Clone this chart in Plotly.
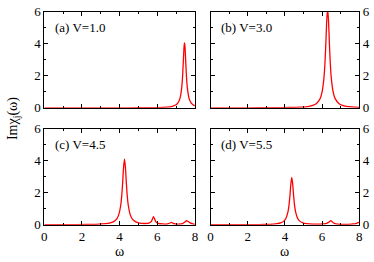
import plotly.graph_objects as go

# ---- data ----
w_a = [0.0, 1.0, 2.0, 3.0, 4.0, 5.0, 6.0, 6.5, 6.8, 7.0, 7.1, 7.2, 7.3, 7.35, 7.4, 7.425,
       7.45, 7.475, 7.5, 7.55, 7.6, 7.7, 7.8, 7.9, 8.0]
chi_a = [0.0, 0.0, 0.0, 0.002, 0.004, 0.008, 0.019, 0.044, 0.094, 0.19, 0.31, 0.56, 1.25, 2.02,
         3.24, 3.81, 4.05, 3.81, 3.24, 2.02, 1.25, 0.56, 0.31, 0.19, 0.13]

w_b = [0.0, 1.0, 2.0, 3.3, 4.3, 4.8, 5.3, 5.5, 5.7, 5.9, 6.0, 6.1, 6.15, 6.2, 6.25,
       6.3, 6.35, 6.4, 6.45, 6.5, 6.6, 6.7, 6.9, 7.1, 7.3, 7.6, 8.0]
chi_b = [0.002, 0.003, 0.005, 0.012, 0.026, 0.046, 0.10, 0.16, 0.28, 0.59, 0.98, 1.84, 2.66,
         3.89, 5.40, 6.2, 5.40, 3.89, 2.66, 1.84, 0.98, 0.59, 0.28, 0.16, 0.10, 0.06, 0.036]

w_c = [0.0, 1.26, 2.26, 2.76, 3.26, 3.46, 3.66, 3.86, 3.96, 4.06, 4.11, 4.16, 4.21, 4.26,
       4.31, 4.36, 4.41, 4.46, 4.56, 4.66, 4.86, 5.06, 5.3, 5.55, 5.68, 5.75, 5.8, 5.85,
       5.92, 6.05, 6.3, 6.55, 6.68, 6.75, 6.82, 6.95, 7.15, 7.35, 7.48, 7.55, 7.62, 7.75, 7.9, 8.0]
chi_c = [0.004, 0.008, 0.017, 0.03, 0.068, 0.105, 0.18, 0.39, 0.65, 1.22, 1.76, 2.58, 3.57, 4.1,
         3.57, 2.58, 1.76, 1.22, 0.65, 0.39, 0.18, 0.11, 0.08, 0.1, 0.2, 0.38, 0.5, 0.4,
         0.2, 0.09, 0.05, 0.06, 0.11, 0.15, 0.11, 0.05, 0.04, 0.07, 0.18, 0.25, 0.22, 0.12, 0.05, 0.03]

w_d = [0.0, 1.0, 2.37, 2.87, 3.37, 3.57, 3.77, 3.97, 4.07, 4.17, 4.22, 4.27, 4.32, 4.37,
       4.42, 4.47, 4.52, 4.57, 4.67, 4.77, 4.97, 5.17, 5.5, 5.9, 6.2, 6.35, 6.42, 6.47,
       6.52, 6.6, 6.75, 7.0, 7.4, 7.7, 7.85, 7.95, 8.0]
chi_d = [0.003, 0.005, 0.011, 0.02, 0.045, 0.07, 0.12, 0.26, 0.44, 0.83, 1.21, 1.80, 2.54, 2.95,
         2.54, 1.80, 1.21, 0.83, 0.44, 0.26, 0.12, 0.07, 0.04, 0.04, 0.07, 0.15, 0.22, 0.25,
         0.22, 0.13, 0.06, 0.03, 0.03, 0.05, 0.09, 0.13, 0.16]

labels = ["(a) V=1.0", "(b) V=3.0", "(c) V=4.5", "(d) V=5.5"]
x_ticks = [0, 2, 4, 6, 8]
y_ticks = [0, 2, 4, 6]

W, H = 374, 262
FONT = "Liberation Serif, Times New Roman, serif"

def px(v):
    return v / W

def py(v):
    return 1 - v / H

xdom_l = [px(42), px(195)]
xdom_r = [px(211), px(362)]
ydom_t = [py(107), py(5)]
ydom_b = [py(231), py(129)]

fig = go.Figure()

series = [(w_a, chi_a), (w_b, chi_b), (w_c, chi_c), (w_d, chi_d)]
axes_ids = ["", "2", "3", "4"]
for (wx, cy), aid in zip(series, axes_ids):
    fig.add_trace(go.Scatter(x=wx, y=cy, mode="lines", xaxis="x" + aid, yaxis="y" + aid,
                             line=dict(color="#ff0000", width=1.3, shape="spline", smoothing=0.6),
                             showlegend=False, hoverinfo="skip"))

def xax(dom, anchor, showlabels):
    return dict(domain=dom, anchor=anchor, range=[0, 8], tickvals=x_ticks,
                showticklabels=showlabels, ticks="inside", ticklen=4, tickwidth=1,
                tickcolor="black", showline=True, linecolor="black", linewidth=1,
                mirror="allticks", showgrid=False, zeroline=False,
                minor=dict(dtick=1, tick0=0, ticklen=2, ticks="inside", tickcolor="black", showgrid=False),
                tickfont=dict(family=FONT, size=13, color="black"))

def yax(dom, anchor, side):
    return dict(domain=dom, anchor=anchor, range=[0, 6], tickvals=y_ticks, side=side,
                ticks="inside", ticklen=4, tickwidth=1, tickcolor="black",
                showline=True, linecolor="black", linewidth=1, mirror="allticks",
                showgrid=False, zeroline=False,
                minor=dict(dtick=1, tick0=0, ticklen=2, ticks="inside", tickcolor="black", showgrid=False),
                tickfont=dict(family=FONT, size=13, color="black"))

fig.update_layout(
    width=W, height=H, margin=dict(l=0, r=0, t=0, b=0),
    paper_bgcolor="white", plot_bgcolor="white",
    xaxis=xax(xdom_l, "y", False), yaxis=yax(ydom_t, "x", "left"),
    xaxis2=xax(xdom_r, "y2", False), yaxis2=yax(ydom_t, "x2", "right"),
    xaxis3=xax(xdom_l, "y3", True), yaxis3=yax(ydom_b, "x3", "left"),
    xaxis4=xax(xdom_r, "y4", True), yaxis4=yax(ydom_b, "x4", "right"),
)

ann = []
pos = [(51, 22), (220, 22), (51, 146), (220, 146)]
for lab, (ax_, ay_) in zip(labels, pos):
    ann.append(dict(x=px(ax_), y=py(ay_), xref="paper", yref="paper", text=lab, showarrow=False,
                    xanchor="left", yanchor="middle", font=dict(family=FONT, size=13, color="black")))
ann.append(dict(x=px(10), y=py(118), xref="paper", yref="paper", text="Imχ<sub>j</sub>(ω)",
                showarrow=False, textangle=-90, xanchor="center", yanchor="middle",
                font=dict(family=FONT, size=14, color="black")))
for cx in [(42 + 195) / 2, (211 + 362) / 2]:
    ann.append(dict(x=px(cx), y=py(249), xref="paper", yref="paper", text="ω", showarrow=False,
                    xanchor="center", yanchor="top", font=dict(family=FONT, size=14, color="black")))
fig.update_layout(annotations=ann)

fig.write_html("out.html", config={"displayModeBar": False},
               post_script="document.body.style.margin='0px';document.body.style.overflow='hidden';")
